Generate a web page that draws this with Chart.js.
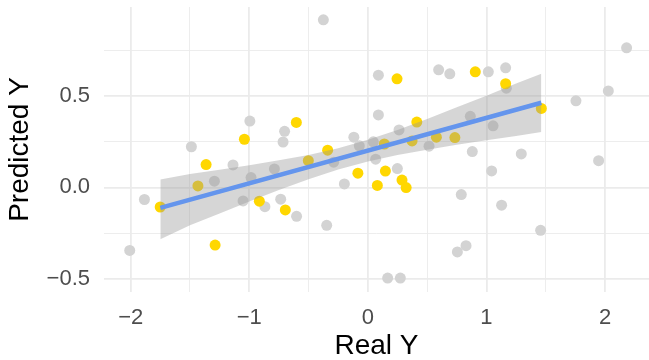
<!DOCTYPE html>
<html>
<head>
<meta charset="utf-8">
<script src="https://cdn.jsdelivr.net/npm/chart.js@4.4.1/dist/chart.umd.min.js"></script>
<style>
  html, body { margin: 0; padding: 0; background: #ffffff; }
  #wrap { width: 649px; height: 360px; position: relative; }
</style>
</head>
<body>
<div id="wrap"><canvas id="predChart"></canvas></div>
<script>
// grey points (all observations)
const greyX = [-0.375, 2.182, 0.089, 0.597, 0.691, 1.016, 1.162, 1.168, 2.028, 1.755,
  0.089, 0.864, 1.056, 0.263, -0.118, -0.072, 0.046, 0.516, 0.881, 1.294,
  0.066, -0.288, 0.249, 1.044, 1.946, -0.198, 0.788, 1.128, -0.347, 1.457,
  0.828, 0.755, 0.167, 0.274, -0.995, -0.702, -0.715, -1.488, -1.137, -0.788,
  -1.294, -0.985, -1.884, -1.052, -0.868, -0.735, -0.601, -2.008]
const greyY = [0.915, 0.762, 0.613, 0.642, 0.620, 0.631, 0.653, 0.542, 0.527, 0.473,
  0.396, 0.388, 0.336, 0.314, 0.274, 0.227, 0.249, 0.225, 0.196, 0.183,
  0.154, 0.138, 0.103, 0.090, 0.146, 0.019, -0.039, -0.097, -0.207, -0.234,
  -0.318, -0.352, -0.495, -0.495, 0.362, 0.306, 0.248, 0.222, 0.123, 0.101,
  0.034, 0.054, -0.066, -0.074, -0.105, -0.064, -0.158, -0.344]

// yellow points (highlighted subset)
const goldX = [-0.603, -1.041, -0.339, 0.246, 0.906, 1.162, 1.463, 0.413, 0.373, 0.578,
  0.734, 0.139, -0.502, -0.084, 0.148, 0.288, 0.080, 0.323, -1.364, -1.433,
  -1.751, -0.915, -0.696, -1.288]
const goldY = [0.355, 0.263, 0.203, 0.593, 0.631, 0.566, 0.431, 0.357, 0.254, 0.274,
  0.272, 0.237, 0.146, 0.078, 0.089, 0.040, 0.011, -0.001, 0.125, 0.008,
  -0.107, -0.075, -0.123, -0.315]

// smoother line and its confidence band
const fitX = [-1.75, 1.463]
const fitY = [-0.112, 0.462]
const bandX = [-1.75, -1.5, -1.25, -1.0, -0.75, -0.5, -0.25, 0, 0.25, 0.5, 0.75, 1.0, 1.25, 1.463]
const bandLow = [-0.283, -0.207, -0.142, -0.077, -0.014, 0.045, 0.098, 0.142, 0.177, 0.206, 0.233, 0.257, 0.281, 0.302]
const bandHigh = [0.043, 0.073, 0.096, 0.121, 0.148, 0.177, 0.214, 0.260, 0.313, 0.374, 0.437, 0.501, 0.568, 0.620]

const xTicks = [-2, -1, 0, 1, 2]
const yTicks = [-0.5, 0, 0.5]

const toPoints = (xs, ys) => xs.map((x, i) => ({x: x, y: ys[i]}))
const minus = s => s.replace('-', '\u2212')

const font = '"Liberation Sans", Arial, Helvetica, sans-serif'
const gridColor = '#EBEBEB'

// keep the panel exactly where ggplot put it
const noPad = scale => {
  scale.paddingTop = 0
  scale.paddingBottom = 0
  scale.paddingLeft = 0
  scale.paddingRight = 0
}

const predCtx = document.getElementById('predChart').getContext('2d')
const predChart = new Chart(predCtx, {
  type: 'scatter',
  data: {
    datasets: [
      {
        label: 'fit',
        data: toPoints(fitX, fitY),
        showLine: true,
        borderColor: '#6495ED',
        borderWidth: 4.5,
        pointRadius: 0,
        fill: false,
        order: 0
      },
      {
        label: 'low',
        data: toPoints(bandX, bandLow),
        showLine: true,
        borderWidth: 0,
        borderColor: 'rgba(0,0,0,0)',
        pointRadius: 0,
        fill: false,
        order: 1
      },
      {
        label: 'high',
        data: toPoints(bandX, bandHigh),
        showLine: true,
        borderWidth: 0,
        borderColor: 'rgba(0,0,0,0)',
        backgroundColor: 'rgba(153,153,153,0.4)',
        pointRadius: 0,
        fill: '-1',
        order: 1
      },
      {
        label: 'gold',
        data: toPoints(goldX, goldY),
        pointRadius: 5.5,
        pointBorderWidth: 0,
        backgroundColor: '#FFD700',
        borderColor: '#FFD700',
        order: 2
      },
      {
        label: 'grey',
        data: toPoints(greyX, greyY),
        pointRadius: 5.5,
        pointBorderWidth: 0,
        backgroundColor: '#D3D3D3',
        borderColor: '#D3D3D3',
        order: 3
      }
    ]
  },
  options: {
    responsive: true,
    maintainAspectRatio: false,
    animation: false,
    layout: { autoPadding: false, padding: { top: 7, right: 0, left: 0, bottom: 0 } },
    plugins: {
      legend: { display: false },
      tooltip: { enabled: false }
    },
    scales: {
      x: {
        type: 'linear',
        min: -2.225,
        max: 2.371,
        afterFit: scale => { scale.height = 68; noPad(scale) },
        border: { display: false },
        grid: {
          color: gridColor,
          drawTicks: false,
          lineWidth: ctx => xTicks.includes(ctx.tick.value) ? 1.8 : 0.9
        },
        ticks: {
          stepSize: 0.5,
          includeBounds: false,
          autoSkip: false,
          maxRotation: 0,
          padding: 13,
          color: '#4D4D4D',
          font: { family: font, size: 22 },
          callback: value => xTicks.includes(value) ? minus(String(value)) : ''
        },
        title: {
          display: true,
          text: 'Real Y',
          color: '#000000',
          font: { family: font, size: 28, lineHeight: 1 },
          padding: { top: 0, bottom: 0 }
        }
      },
      y: {
        type: 'linear',
        min: -0.571,
        max: 0.985,
        afterFit: scale => { scale.width = 104; noPad(scale) },
        border: { display: false },
        grid: {
          color: gridColor,
          drawTicks: false,
          lineWidth: ctx => yTicks.includes(ctx.tick.value) ? 1.8 : 0.9
        },
        ticks: {
          stepSize: 0.25,
          includeBounds: false,
          autoSkip: false,
          padding: 14,
          color: '#4D4D4D',
          font: { family: font, size: 22 },
          callback: value => yTicks.includes(value) ? minus(value.toFixed(1)) : ''
        },
        title: {
          display: true,
          text: 'Predicted Y',
          color: '#000000',
          font: { family: font, size: 28, lineHeight: 1 },
          padding: { top: 6, bottom: 0 }
        }
      }
    }
  }
})
</script>
</body>
</html>
